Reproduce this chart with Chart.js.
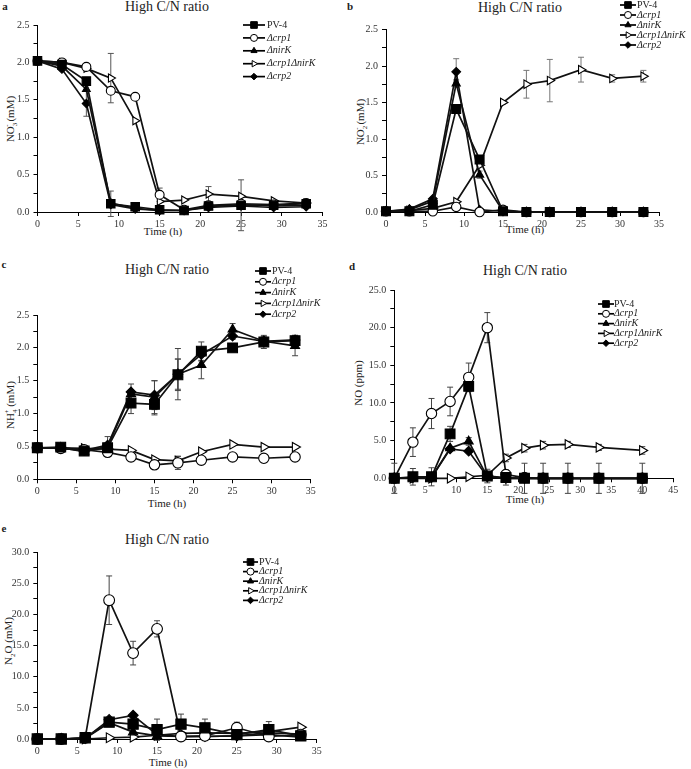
<!DOCTYPE html>
<html>
<head>
<meta charset="utf-8">
<script src="https://cdn.jsdelivr.net/npm/chart.js@4/dist/chart.umd.min.js"></script>
<style>
  body { margin: 0; background: #fff; width: 691px; height: 769px; position: relative; overflow: hidden;
         font-family: "Liberation Serif", "DejaVu Serif", serif; color: #222; }
  canvas { position: absolute; }
  .c { position: absolute; transform: translate(-50%, -50%); white-space: nowrap; line-height: 1; }
  .title { font-size: 14px; }
  .letter { font-size: 11px; font-weight: bold; }
  .xt { font-size: 11px; }
  .yt { position: absolute; transform: translate(-50%, -50%) rotate(-90deg); white-space: nowrap; font-size: 11px; line-height: 1; }
  sub, sup { font-size: 7px; line-height: 0; }
</style>
</head>
<body>
<!-- panel letters / titles / axis titles -->
<div class="c letter" style="left:5px;top:6px">a</div>
<div class="c title" style="left:167px;top:7px">High C/N ratio</div>
<div class="c xt" style="left:163px;top:231px">Time (h)</div>
<div class="yt" style="left:10px;top:119px">NO<sub>3</sub><sup style="margin-left:-4px">-</sup> (mM)</div>

<div class="c letter" style="left:350px;top:6px">b</div>
<div class="c title" style="left:520px;top:8px">High C/N ratio</div>
<div class="c xt" style="left:525px;top:229px">Time (h)</div>
<div class="yt" style="left:360px;top:122px">NO<sub>2</sub><sup style="margin-left:-4px">-</sup> (mM)</div>

<div class="c letter" style="left:4px;top:264px">c</div>
<div class="c title" style="left:167px;top:270px">High C/N ratio</div>
<div class="c xt" style="left:167px;top:503px">Time (h)</div>
<div class="yt" style="left:10px;top:405px">NH<sub>4</sub><sup style="margin-left:-4px">+</sup> (mM)</div>

<div class="c letter" style="left:352px;top:266px">d</div>
<div class="c title" style="left:525px;top:271px">High C/N ratio</div>
<div class="c xt" style="left:525px;top:499px">Time (h)</div>
<div class="yt" style="left:358px;top:383px">NO (ppm)</div>

<div class="c letter" style="left:4px;top:528px">e</div>
<div class="c title" style="left:167px;top:540px">High C/N ratio</div>
<div class="c xt" style="left:168px;top:762px">Time (h)</div>
<div class="yt" style="left:8px;top:641px">N<sub>2</sub>O (mM)</div>

<script>
// 시간축 (h)
const hours = [0, 3, 6, 9, 12, 15, 18, 21, 25, 29, 33];
const hoursNO = [0, 3, 6, 9, 12, 15, 18, 21, 24, 28, 33, 40];
const strains = ['PV-4', 'Δcrp1', 'ΔnirK', 'Δcrp1ΔnirK', 'Δcrp2'];

// a: NO3- (mM)
const no3_pv4      = [2.02, 1.97, 1.75, 0.11, 0.07, 0.03, 0.02, 0.08, 0.09, 0.09, 0.11];
const no3_crp1     = [2.02, 2.00, 1.94, 1.62, 1.54, 0.23, 0.03, 0.09, 0.11, 0.10, 0.12];
const no3_nirK     = [2.02, 1.95, 1.64, 0.12, 0.05, 0.02, 0.02, 0.07, 0.10, 0.08, 0.09];
const no3_crp1nirK = [2.02, 2.00, 1.92, 1.79, 1.22, 0.14, 0.16, 0.24, 0.21, 0.15, 0.12];
const no3_crp2     = [2.02, 1.91, 1.45, 0.10, 0.04, 0.02, 0.02, 0.06, 0.08, 0.06, 0.07];
const no3_pv4Err      = [0, 0, 0.03, 0.17, 0, 0, 0, 0, 0.34, 0, 0];
const no3_crp1Err     = [0, 0, 0, 0, 0, 0.09, 0, 0, 0, 0, 0];
const no3_nirKErr     = [0, 0, 0, 0, 0, 0, 0, 0, 0, 0, 0];
const no3_crp1nirKErr = [0, 0, 0, 0.33, 0, 0, 0, 0.10, 0, 0, 0];
const no3_crp2Err     = [0, 0, 0.17, 0, 0, 0, 0, 0, 0, 0, 0];

// b: NO2- (mM)
const no2_pv4      = [0.01, 0.01, 0.10, 1.41, 0.72, 0.01, 0, 0, 0, 0, 0];
const no2_crp1     = [0.01, 0.01, 0.01, 0.07, 0.00, 0.03, 0, 0, 0, 0, 0];
const no2_nirK     = [0.01, 0.03, 0.15, 1.76, 0.51, 0.01, 0, 0, 0, 0, 0];
const no2_crp1nirK = [0.01, 0.02, 0.05, 0.14, 0.64, 1.50, 1.75, 1.80, 1.95, 1.83, 1.86];
const no2_crp2     = [0.01, 0.04, 0.18, 1.92, 0.03, 0.01, 0, 0, 0, 0, 0];
const no2_pv4Err      = [0, 0, 0, 0, 0.05, 0, 0, 0, 0, 0, 0];
const no2_crp1Err     = [0, 0, 0, 0, 0, 0, 0, 0, 0, 0, 0];
const no2_nirKErr     = [0, 0, 0, 0.05, 0.05, 0, 0, 0, 0, 0, 0];
const no2_crp1nirKErr = [0, 0, 0, 0, 0, 0.02, 0.19, 0.29, 0.17, 0.05, 0.08];
const no2_crp2Err     = [0, 0, 0, 0.18, 0, 0, 0, 0, 0, 0, 0];

// c: NH4+ (mM)
const nh4_pv4      = [0.48, 0.49, 0.43, 0.48, 1.16, 1.14, 1.59, 1.95, 2.00, 2.09, 2.11];
const nh4_crp1     = [0.48, 0.47, 0.45, 0.41, 0.34, 0.22, 0.25, 0.29, 0.34, 0.32, 0.34];
const nh4_nirK     = [0.48, 0.48, 0.42, 0.50, 1.30, 1.25, 1.60, 1.74, 2.28, 2.10, 2.03];
const nh4_crp1nirK = [0.48, 0.48, 0.47, 0.46, 0.44, 0.30, 0.28, 0.42, 0.53, 0.49, 0.49];
const nh4_crp2     = [0.48, 0.47, 0.44, 0.52, 1.33, 1.28, 1.60, 1.90, 2.18, 2.10, 2.12];
const nh4_pv4Err      = [0, 0, 0, 0, 0.16, 0.16, 0.24, 0.14, 0.05, 0.10, 0.08];
const nh4_crp1Err     = [0, 0, 0, 0, 0, 0, 0.10, 0, 0, 0, 0];
const nh4_nirKErr     = [0, 0, 0, 0, 0, 0.25, 0.39, 0.21, 0.09, 0.07, 0.15];
const nh4_crp1nirKErr = [0, 0, 0, 0, 0, 0, 0.07, 0, 0, 0, 0];
const nh4_crp2Err     = [0, 0, 0, 0.13, 0.12, 0.22, 0.23, 0.10, 0.05, 0.05, 0.07];

// d: NO (ppm)
const no_pv4      = [0, 0.2, 0.2, 5.9, 12.2, 0.3, 0.1, 0, 0, 0, 0, 0];
const no_crp1     = [0, 4.8, 8.6, 10.2, 13.4, 20.0, 0.5, 0.1, 0, 0, 0, 0];
const no_nirK     = [0, 0.1, 0.1, 4.0, 4.9, 0.2, 0, 0, 0, 0, 0, 0];
const no_crp1nirK = [0, 0, 0, 0, 0.2, 0.4, 2.7, 4.0, 4.4, 4.5, 4.1, 3.7];
const no_crp2     = [0, 0.1, 0.1, 3.9, 3.6, 0.2, 0, 0, 0, 0, 0, 0];
const no_pv4Err      = [2.0, 1.1, 1.2, 1.0, 0, 0.9, 1.0, 2.0, 2.0, 2.0, 2.0, 2.0];
const no_crp1Err     = [0, 1.9, 2.0, 1.9, 1.9, 2.0, 0, 0, 0, 0, 0, 0];
const no_nirKErr     = [0, 0, 0, 0, 0.5, 0, 0, 0, 0, 0, 0, 0];
const no_crp1nirKErr = [0, 0, 0, 0, 0, 0, 0.5, 0.5, 0.5, 0.4, 0.4, 0.5];
const no_crp2Err     = [0, 0, 0, 0, 0, 0, 0, 0, 0, 0, 0, 0];

// e: N2O (mM)
const n2o_pv4      = [0, 0, 0.2, 2.7, 2.4, 1.5, 2.4, 1.8, 0.7, 1.5, 0.5];
const n2o_crp1     = [0, 0, 0.2, 22.3, 13.8, 17.7, 0.4, 0.5, 1.8, 0.4, 0.7];
const n2o_nirK     = [0, 0, 0.1, 2.6, 1.1, 0.5, 0.4, 0.4, 0.5, 0.7, 0.3];
const n2o_crp1nirK = [0, 0, 0, 0.2, 0.3, 0.6, 0.9, 1.0, 0.9, 1.2, 1.9];
const n2o_crp2     = [0, 0, 0.1, 3.1, 3.8, 0.7, 0.4, 0.4, 0.5, 1.0, 0.8];
const n2o_pv4Err      = [0, 0, 0, 0, 1.3, 1.7, 1.6, 1.4, 0, 1.3, 0];
const n2o_crp1Err     = [0, 0, 0, 3.9, 1.9, 1.3, 0, 0, 0.9, 0, 0];
const n2o_nirKErr     = [0, 0, 0, 0, 0, 0, 0, 0, 0, 0, 0];
const n2o_crp1nirKErr = [0, 0, 0, 0, 0, 0, 0, 0, 0, 0, 0];
const n2o_crp2Err     = [0, 0, 0, 0, 0, 0, 0, 0, 0, 0, 0];

// 마커 모양 (균주별)
const markers = [
  { pointStyle: 'rect', radius: 6.3, fill: '#000', rotation: 0 },
  { pointStyle: 'circle', radius: 4.7, fill: '#fff', rotation: 0 },
  { pointStyle: 'triangle', radius: 4.7, fill: '#000', rotation: 0 },
  { pointStyle: 'triangle', radius: 4.9, fill: '#fff', rotation: 90 },
  { pointStyle: 'rectRot', radius: 4.4, fill: '#000', rotation: 0 }
];

// 에러바 플러그인
const errorBars = {
  id: 'errorBars',
  beforeDatasetsDraw(chart, args, opts) {
    const ctx = chart.ctx;
    const ys = chart.scales.y;
    ctx.save();
    ctx.strokeStyle = opts.color || '#444';
    ctx.lineWidth = 1;
    chart.data.datasets.forEach((ds, i) => {
      if (!ds.errors) return;
      const meta = chart.getDatasetMeta(i);
      meta.data.forEach((pt, j) => {
        const e = ds.errors[j];
        if (!e) return;
        const v = ds.data[j].y;
        const top = ys.getPixelForValue(v + e);
        const bot = ys.getPixelForValue(v - e);
        ctx.beginPath();
        ctx.moveTo(pt.x, top); ctx.lineTo(pt.x, bot);
        ctx.moveTo(pt.x - 3, top); ctx.lineTo(pt.x + 3, top);
        ctx.moveTo(pt.x - 3, bot); ctx.lineTo(pt.x + 3, bot);
        ctx.stroke();
      });
    });
    ctx.restore();
  }
};

// 범례 (라인 + 마커 + 기울임 글씨)
const sideLegend = {
  id: 'sideLegend',
  afterDraw(chart, args, o) {
    const ctx = chart.ctx;
    chart.data.datasets.forEach((ds, i) => {
      const y = o.y + i * o.dy;
      ctx.save();
      ctx.strokeStyle = '#000';
      ctx.lineWidth = 1.7;
      ctx.beginPath();
      ctx.moveTo(o.x, y); ctx.lineTo(o.x + o.len, y);
      ctx.stroke();
      ctx.fillStyle = markers[i].fill;
      ctx.lineWidth = 1;
      Chart.helpers.drawPoint(ctx, {
        pointStyle: markers[i].pointStyle,
        rotation: markers[i].rotation,
        radius: markers[i].radius * 0.75,
        borderWidth: 1
      }, o.x + o.len / 2, y);
      ctx.fillStyle = '#222';
      ctx.font = (i === 0 ? '' : 'italic ') + '10px "Liberation Serif"';
      ctx.textBaseline = 'middle';
      ctx.fillText(ds.label, o.tx, y);
      ctx.restore();
    });
  }
};

function buildPanel(p) {
  const cv = document.createElement('canvas');
  cv.width = p.box.w;
  cv.height = p.box.h;
  cv.style.left = p.box.x + 'px';
  cv.style.top = p.box.y + 'px';
  document.body.appendChild(cv);

  const YW = 30, XH = 18;
  const pad = {
    left: p.area.l - p.box.x - YW,
    top: p.area.t - p.box.y,
    right: p.box.x + p.box.w - p.area.r,
    bottom: p.box.y + p.box.h - p.area.b - XH
  };

  const datasets = p.series.map((vals, i) => ({
    label: strains[i],
    data: p.x.map((h, j) => ({ x: h, y: vals[j] })),
    errors: p.errors[i],
    showLine: true,
    borderColor: '#111',
    borderWidth: 1.7,
    pointStyle: markers[i].pointStyle,
    pointRotation: markers[i].rotation,
    pointRadius: markers[i].radius * p.mk,
    pointBackgroundColor: markers[i].fill,
    pointBorderColor: '#000',
    pointBorderWidth: 1.1,
    clip: false
  }));

  const major = p.yStep;
  const tickFont = { family: '"Liberation Serif"', size: 10 };

  new Chart(cv, {
    type: 'scatter',
    data: { datasets: datasets },
    options: {
      responsive: false,
      animation: false,
      layout: { padding: pad },
      plugins: {
        legend: { display: false },
        tooltip: { enabled: false },
        errorBars: { color: p.errColor },
        sideLegend: {
          x: p.legend.x - p.box.x, y: p.legend.y - p.box.y,
          dy: p.legend.dy, len: p.legend.len, tx: p.legend.tx - p.box.x
        }
      },
      scales: {
        x: {
          type: 'linear', min: 0, max: p.xMax,
          afterFit(s) { s.height = XH; },
          ticks: { stepSize: 5, color: '#333', font: tickFont, padding: 2, maxRotation: 0 },
          grid: { drawOnChartArea: false, drawTicks: true, tickLength: 4, color: '#000' },
          border: { display: true, color: '#000', width: 1 }
        },
        y: {
          min: 0, max: p.yMax,
          afterFit(s) { s.width = YW; },
          ticks: {
            stepSize: major / 2, autoSkip: false, color: '#333', font: tickFont, padding: 4,
            callback: v => {
              const m = v / major;
              return Math.abs(m - Math.round(m)) < 1e-6 ? v.toFixed(1) : '';
            }
          },
          grid: { drawOnChartArea: false, drawTicks: true, tickLength: 4, color: '#000' },
          border: { display: true, color: '#000', width: 1 }
        }
      }
    },
    plugins: [errorBars, sideLegend]
  });
}

buildPanel({
  box: { x: 0, y: 0, w: 345, h: 240 }, area: { l: 37.5, r: 322.5, t: 25, b: 212 },
  x: hours, xMax: 35, yMax: 2.5, yStep: 0.5, mk: 0.95, errColor: '#555',
  series: [no3_pv4, no3_crp1, no3_nirK, no3_crp1nirK, no3_crp2],
  errors: [no3_pv4Err, no3_crp1Err, no3_nirKErr, no3_crp1nirKErr, no3_crp2Err],
  legend: { x: 243, y: 25, dy: 12.9, len: 22, tx: 267 }
});

buildPanel({
  box: { x: 345, y: 0, w: 346, h: 240 }, area: { l: 386, r: 659, t: 29.5, b: 212 },
  x: hours, xMax: 35, yMax: 2.5, yStep: 0.5, mk: 1.0, errColor: '#777',
  series: [no2_pv4, no2_crp1, no2_nirK, no2_crp1nirK, no2_crp2],
  errors: [no2_pv4Err, no2_crp1Err, no2_nirKErr, no2_crp1nirKErr, no2_crp2Err],
  legend: { x: 620, y: 5, dy: 10, len: 16, tx: 637 }
});

buildPanel({
  box: { x: 0, y: 250, w: 345, h: 248 }, area: { l: 37.3, r: 310.7, t: 315, b: 479.3 },
  x: hours, xMax: 35, yMax: 2.5, yStep: 0.5, mk: 1.1, errColor: '#444',
  series: [nh4_pv4, nh4_crp1, nh4_nirK, nh4_crp1nirK, nh4_crp2],
  errors: [nh4_pv4Err, nh4_crp1Err, nh4_nirKErr, nh4_crp1nirKErr, nh4_crp2Err],
  legend: { x: 255, y: 271, dy: 10.8, len: 16, tx: 272 }
});

buildPanel({
  box: { x: 345, y: 250, w: 346, h: 250 }, area: { l: 394.3, r: 673.3, t: 290, b: 478.3 },
  x: hoursNO, xMax: 45, yMax: 25, yStep: 5, mk: 1.1, errColor: '#444',
  series: [no_pv4, no_crp1, no_nirK, no_crp1nirK, no_crp2],
  errors: [no_pv4Err, no_crp1Err, no_nirKErr, no_crp1nirKErr, no_crp2Err],
  legend: { x: 598, y: 304, dy: 9.8, len: 16, tx: 614 }
});

buildPanel({
  box: { x: 0, y: 510, w: 345, h: 259 }, area: { l: 37.3, r: 316.7, t: 552.3, b: 739 },
  x: hours, xMax: 35, yMax: 30, yStep: 5, mk: 1.15, errColor: '#444',
  series: [n2o_pv4, n2o_crp1, n2o_nirK, n2o_crp1nirK, n2o_crp2],
  errors: [n2o_pv4Err, n2o_crp1Err, n2o_nirKErr, n2o_crp1nirKErr, n2o_crp2Err],
  legend: { x: 243, y: 562, dy: 9.6, len: 15, tx: 259 }
});
</script>
</body>
</html>
